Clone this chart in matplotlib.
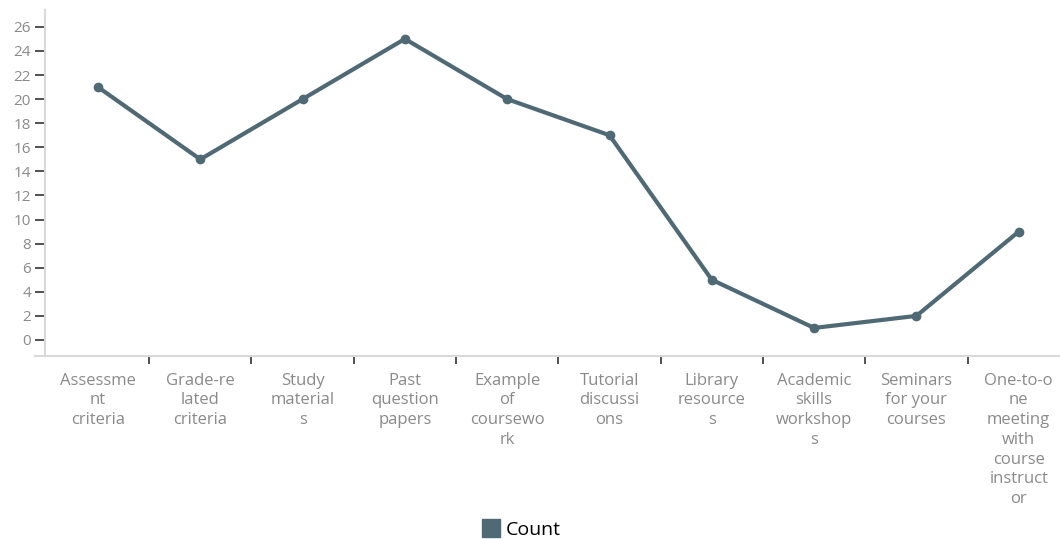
import matplotlib.pyplot as plt
from matplotlib.lines import Line2D

# Data
categories = [
    "Assessme\nnt\ncriteria",
    "Grade-re\nlated\ncriteria",
    "Study\nmaterial\ns",
    "Past\nquestion\npapers",
    "Example\nof\ncoursewo\nrk",
    "Tutorial\ndiscussi\nons",
    "Library\nresource\ns",
    "Academic\nskills\nworkshop\ns",
    "Seminars\nfor your\ncourses",
    "One-to-o\nne\nmeeting\nwith\ncourse\ninstruct\nor",
]
counts = [21, 15, 20, 25, 20, 17, 5, 1, 2, 9]
y_ticks = list(range(0, 27, 2))

line_color = "#506a75"
label_color = "#8a8a8a"

plt.rcParams["font.family"] = ["Open Sans", "DejaVu Sans"]

fig = plt.figure(figsize=(10.6, 5.39), dpi=100)
W, H = 1060, 539
step = 102.3
# axes box in pixels: left 45, top 10, bottom 356
left_px = 45
right_px = 98 + 9.5 * step
ax = fig.add_axes([left_px / W, (H - 356) / H, (right_px - left_px) / W, (356 - 10) / H])

x = list(range(len(counts)))
ax.plot(x, counts, color=line_color, lw=3, marker="o", ms=6,
        solid_capstyle="round", solid_joinstyle="round", zorder=3)

ax.set_xlim(-0.5 - (98 - 0.5 * step - left_px) / step, len(counts) - 0.5)
ax.set_ylim(-1.33, 27.4)
ax.set_yticks(y_ticks)
ax.set_yticklabels([str(v) for v in y_ticks], color=label_color, fontsize=11)
ax.tick_params(axis="y", length=7, width=1.2, color="#333333", pad=3)

# category labels at centers, ticks at boundaries
ax.set_xticks(x)
ax.set_xticklabels(categories, color=label_color, fontsize=12, linespacing=1.31)
ax.tick_params(axis="x", which="major", length=0, pad=12)
ax.set_xticks([i + 0.5 for i in x[:-1]], minor=True)
ax.tick_params(axis="x", which="minor", length=6, width=1.2, color="#333333",
               direction="out")

for s in ["top", "right"]:
    ax.spines[s].set_visible(False)
for s in ["left", "bottom"]:
    ax.spines[s].set_color("#d9d9d9")
    ax.spines[s].set_linewidth(1.5)
ax.spines["bottom"].set_bounds(ax.get_xlim()[0] - 10 / step, len(counts) - 0.5)

handle = Line2D([], [], color=line_color, marker="s", ls="", ms=13)
fig.legend([handle], ["Count"], loc="center", bbox_to_anchor=(521 / W, 1 - 530 / H),
           frameon=False, fontsize=14, handletextpad=0.3, handlelength=1)

fig.savefig("out.png", dpi=100)
